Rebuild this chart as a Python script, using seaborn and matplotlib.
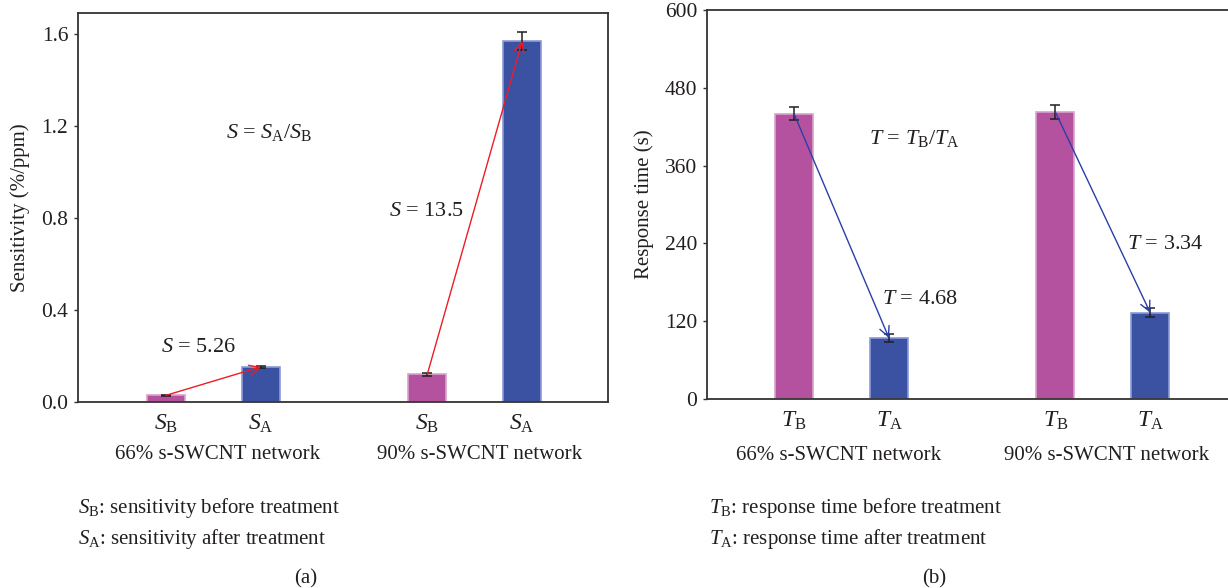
import numpy as np
import pandas as pd
import matplotlib
matplotlib.use("Agg")
import matplotlib.pyplot as plt
import seaborn as sns

# ---------------- data ----------------
groups = ["66% s-SWCNT network", "90% s-SWCNT network"]
sens_before = [0.029, 0.120]
sens_after = [0.153, 1.570]
sens_before_err = [0.003, 0.006]
sens_after_err = [0.004, 0.038]
sens_ratio = ["5.26", "13.5"]
resp_before = [440, 443]
resp_after = [94, 133]
resp_before_err = [10, 11]
resp_after_err = [6, 7]
resp_ratio = ["4.68", "3.34"]
sens_ticks = [0.0, 0.4, 0.8, 1.2, 1.6]
resp_ticks = [0, 120, 240, 360, 480, 600]
sens_tick_labels = ["0.0", "0.4", "0.8", "1.2", "1.6"]
resp_tick_labels = ["0", "120", "240", "360", "480", "600"]

# ---------------- style ----------------
sns.set_theme(style="white")
plt.rcParams["font.family"] = ["Liberation Serif", "DejaVu Serif"]
plt.rcParams["mathtext.fontset"] = "custom"
plt.rcParams["mathtext.rm"] = "Liberation Serif"
plt.rcParams["mathtext.it"] = "Liberation Serif:italic"
plt.rcParams["mathtext.bf"] = "Liberation Serif:bold"

PINK = "#B5529F"
BLUE = "#3B52A2"
PINK_EDGE = "#D7A3CC"
BLUE_EDGE = "#8C9AD6"
TXT = "#231F20"
FS = 15
GAP = 2.75

W, H = 1228, 588
fig = plt.figure(figsize=(W / 100, H / 100), dpi=100)


def px_axes(left, right, top, bottom):
    return fig.add_axes([left / W, 1 - bottom / H, (right - left) / W, (bottom - top) / H])


def make_df(before, after):
    rows = []
    for i, (b, a) in enumerate(zip(before, after)):
        rows.append(dict(pos=i * GAP, value=b, kind="before"))
        rows.append(dict(pos=i * GAP + 1, value=a, kind="after"))
    return pd.DataFrame(rows)


def draw_panel(ax, before, after, berr, aerr, arrow_color, sym, ratios, ylim, yticks, yticklabels,
               ylabel, ratio_pos, formula_pos, group_x, group_y):
    df = make_df(before, after)
    sns.barplot(data=df, x="pos", y="value", hue="kind", palette={"before": PINK, "after": BLUE},
                native_scale=True, width=0.4, errorbar=None, legend=False, ax=ax,
                linewidth=1.2, saturation=1)
    for p in ax.patches:
        fc = matplotlib.colors.to_hex(p.get_facecolor())
        p.set_edgecolor(PINK_EDGE if fc.lower() == PINK.lower() else BLUE_EDGE)
    xb = [i * GAP for i in range(len(before))]
    xa = [i * GAP + 1 for i in range(len(after))]
    ax.errorbar(xb, before, yerr=berr, fmt="none", ecolor=TXT, elinewidth=1.1, capsize=3.5, capthick=1.1, zorder=4)
    ax.errorbar(xa, after, yerr=aerr, fmt="none", ecolor=TXT, elinewidth=1.1, capsize=3.5, capthick=1.1, zorder=4)
    for b_x, b, a_x, a in zip(xb, before, xa, after):
        ax.annotate("", xy=(a_x, a), xytext=(b_x, b),
                    arrowprops=dict(arrowstyle="->,head_length=0.6,head_width=0.3", color=arrow_color,
                                    lw=1.0, shrinkA=0, shrinkB=0), zorder=5)
    # annotations
    for (tx, ty), r in zip(ratio_pos, ratios):
        ax.text(tx, ty, f"${sym}$ = {r}", fontsize=FS + 1, color=TXT, ha="center", va="center")
    ax.text(formula_pos[0], formula_pos[1], formula_pos[2], fontsize=FS + 1, color=TXT, ha="center", va="center")
    # x ticks
    ticks = []
    labels = []
    for b_x, a_x in zip(xb, xa):
        ticks += [b_x, a_x]
        labels += [rf"${sym}_\mathrm{{B}}$", rf"${sym}_\mathrm{{A}}$"]
    ax.set_xticks(ticks)
    ax.set_xticklabels(labels, fontsize=FS + 2, color=TXT)
    ax.tick_params(axis="x", length=0, pad=8)
    ax.set_xlabel("")
    for gx, g in zip(group_x, groups):
        ax.text(gx, group_y, g, transform=ax.get_xaxis_transform(), fontsize=FS, color=TXT,
                ha="center", va="center")
    ax.set_ylim(*ylim)
    ax.set_yticks(yticks)
    ax.set_yticklabels(yticklabels, fontsize=FS + 0.5, color=TXT)
    ax.tick_params(axis="y", direction="out", length=3, width=1, color="#333333", pad=4, left=True)
    ax.set_ylabel(ylabel, fontsize=FS, color=TXT, labelpad=8)
    for s in ax.spines.values():
        s.set_color("#333333")
        s.set_linewidth(1.3)


# Panel (a)
ax1 = px_axes(78, 608, 13, 402)
draw_panel(ax1, sens_before, sens_after, sens_before_err, sens_after_err, "#EE1C25", "S",
           sens_ratio, (0, 1.691), sens_ticks, sens_tick_labels, "Sensitivity (%/ppm)",
           [(0.347, 0.239), (2.737, 0.826)],
           (1.084, 1.17, r"$S$ = $S_\mathrm{A}/S_\mathrm{B}$"),
           [0.54, 3.30], -0.136)
ax1.set_xlim((78 - 166) / 95, (608 - 166) / 95)

# Panel (b)
ax2 = px_axes(707, 1237, 10, 399)
draw_panel(ax2, resp_before, resp_after, resp_before_err, resp_after_err, "#2B3FA6", "T",
           resp_ratio, (0, 600), resp_ticks, resp_tick_labels, "Response time (s)",
           [(1.326, 154), (3.905, 239)],
           (1.263, 402, r"$T$ = $T_\mathrm{B}/T_\mathrm{A}$"),
           [0.47, 3.29], -0.144)
ax2.set_xlim((707 - 794) / 95, (1237 - 794) / 95)

# Footnotes
fig.text(78 / W, 1 - 508 / H, r"$S_\mathrm{B}$: sensitivity before treatment", fontsize=FS, color=TXT, va="center")
fig.text(78 / W, 1 - 539 / H, r"$S_\mathrm{A}$: sensitivity after treatment", fontsize=FS, color=TXT, va="center")
fig.text(709 / W, 1 - 508 / H, r"$T_\mathrm{B}$: response time before treatment", fontsize=FS, color=TXT, va="center")
fig.text(709 / W, 1 - 539 / H, r"$T_\mathrm{A}$: response time after treatment", fontsize=FS, color=TXT, va="center")
fig.text(306 / W, 1 - 579 / H, "(a)", fontsize=FS, color=TXT, ha="center", va="center")
fig.text(934 / W, 1 - 579 / H, "(b)", fontsize=FS, color=TXT, ha="center", va="center")

fig.savefig("out.png", dpi=100)
